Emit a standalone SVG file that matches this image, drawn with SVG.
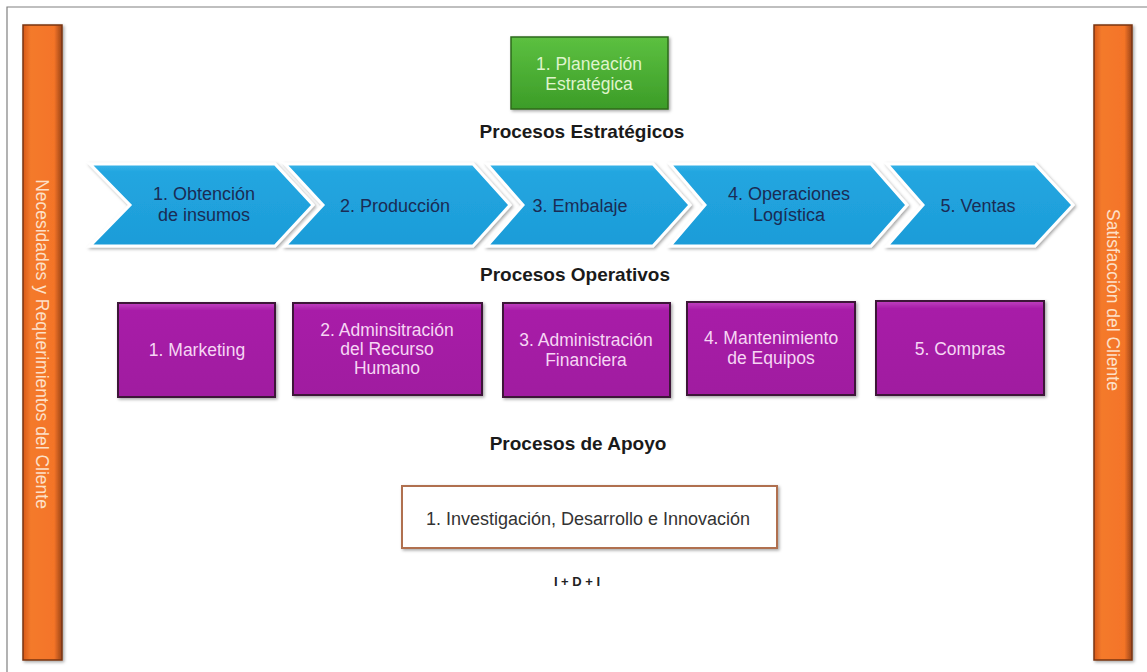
<svg xmlns="http://www.w3.org/2000/svg" width="1147" height="672" viewBox="0 0 1147 672">
<defs>
<linearGradient id="gOrange" x1="0" y1="0" x2="1" y2="0">
<stop offset="0" stop-color="#d85a18"/><stop offset="0.2" stop-color="#f47a2c"/><stop offset="0.8" stop-color="#f47428"/><stop offset="1" stop-color="#9a4418"/>
</linearGradient>
<linearGradient id="gPurple" x1="0" y1="0" x2="0" y2="1">
<stop offset="0" stop-color="#c040c0"/><stop offset="0.08" stop-color="#a81ea8"/><stop offset="1" stop-color="#a01ca0"/>
</linearGradient>
<linearGradient id="gGreen" x1="0" y1="0" x2="0" y2="1">
<stop offset="0" stop-color="#5cc040"/><stop offset="1" stop-color="#3c9c28"/>
</linearGradient>
<linearGradient id="gBlue" x1="0" y1="0" x2="0" y2="1">
<stop offset="0" stop-color="#3ab4e8"/><stop offset="0.1" stop-color="#22a6e0"/><stop offset="1" stop-color="#1d9cd8"/>
</linearGradient>
<filter id="sh" x="-10%" y="-10%" width="130%" height="130%">
<feDropShadow dx="1.5" dy="1.5" stdDeviation="1.5" flood-color="#000" flood-opacity="0.35"/>
</filter>
</defs>
<style>
.bar{fill:url(#gOrange);stroke:#7a3410;stroke-width:1.5}
.bartxt{font-family:"Liberation Sans",Arial,sans-serif;font-size:17.5px;fill:#fde0c8;text-anchor:middle}
.chev{fill:url(#gBlue);stroke:#ffffff;stroke-width:3}
.ctxt{font-family:"Liberation Sans",Arial,sans-serif;font-size:18px;fill:#1a2c55;text-anchor:middle}
.pbox{fill:url(#gPurple);stroke:#3c1238;stroke-width:2}
.ptxt{font-family:"Liberation Sans",Arial,sans-serif;font-size:17.5px;fill:#f6d6f4;text-anchor:middle}
.head{font-family:"Liberation Sans",Arial,sans-serif;font-size:19px;font-weight:bold;fill:#1a1a1a;text-anchor:middle}
.gtxt{font-family:"Liberation Sans",Arial,sans-serif;font-size:17.5px;fill:#dff4cc;text-anchor:middle}
.itxt{font-family:"Liberation Sans",Arial,sans-serif;font-size:18px;fill:#333;text-anchor:middle}
</style>
<rect width="1147" height="672" fill="#ffffff"/>
<path d="M7,672 V7 H1147" fill="none" stroke="#808080" stroke-width="1.2"/>

<g id="left-bar">
<rect class="bar" x="23" y="25" width="39" height="635" filter="url(#sh)"/>
<text class="bartxt" transform="translate(36,344) rotate(90)">Necesidades y Requerimientos del Cliente</text>
</g>
<g id="right-bar">
<rect class="bar" x="1094" y="25" width="38" height="635" filter="url(#sh)"/>
<text class="bartxt" transform="translate(1107,300) rotate(90)">Satisfacción del Cliente</text>
</g>

<g id="planeacion">
<rect x="511" y="37" width="157" height="72" fill="url(#gGreen)" stroke="#2c6a1c" stroke-width="1.5" filter="url(#sh)"/>
<text class="gtxt" x="589" y="70">1. Planeación</text>
<text class="gtxt" x="589" y="90">Estratégica</text>
</g>
<text class="head" x="582" y="138">Procesos Estratégicos</text>

<g id="chev1">
<path class="chev" d="M90,164 L275,164 L313,205 L275,246 L90,246 L130,205 Z" filter="url(#sh)"/>
<text class="ctxt" x="204" y="200">1. Obtención</text>
<text class="ctxt" x="204" y="221">de insumos</text>
</g>
<g id="chev2">
<path class="chev" d="M285,164 L473,164 L510,205 L473,246 L285,246 L323,205 Z" filter="url(#sh)"/>
<text class="ctxt" x="395" y="212">2. Producción</text>
</g>
<g id="chev3">
<path class="chev" d="M487,164 L653,164 L690,205 L653,246 L487,246 L523,205 Z" filter="url(#sh)"/>
<text class="ctxt" x="580" y="212">3. Embalaje</text>
</g>
<g id="chev4">
<path class="chev" d="M670,164 L871,164 L907,205 L871,246 L670,246 L705,205 Z" filter="url(#sh)"/>
<text class="ctxt" x="789" y="200">4. Operaciones</text>
<text class="ctxt" x="789" y="221">Logística</text>
</g>
<g id="chev5">
<path class="chev" d="M887,164 L1035,164 L1073,205 L1035,246 L887,246 L923,205 Z" filter="url(#sh)"/>
<text class="ctxt" x="978" y="212">5. Ventas</text>
</g>
<text class="head" x="575" y="281">Procesos Operativos</text>

<g id="marketing">
<rect class="pbox" x="118" y="303" width="157" height="94" filter="url(#sh)"/>
<text class="ptxt" x="197" y="356">1. Marketing</text>
</g>
<g id="rrhh">
<rect class="pbox" x="293" y="303" width="189" height="92" filter="url(#sh)"/>
<text class="ptxt" x="387" y="336">2. Adminsitración</text>
<text class="ptxt" x="387" y="355">del Recurso</text>
<text class="ptxt" x="387" y="374">Humano</text>
</g>
<g id="financiera">
<rect class="pbox" x="503" y="303" width="167" height="94" filter="url(#sh)"/>
<text class="ptxt" x="586" y="346">3. Administración</text>
<text class="ptxt" x="586" y="366">Financiera</text>
</g>
<g id="mantenimiento">
<rect class="pbox" x="687" y="302" width="168" height="93" filter="url(#sh)"/>
<text class="ptxt" x="771" y="344">4. Mantenimiento</text>
<text class="ptxt" x="771" y="364">de Equipos</text>
</g>
<g id="compras">
<rect class="pbox" x="876" y="301" width="168" height="94" filter="url(#sh)"/>
<text class="ptxt" x="960" y="355">5. Compras</text>
</g>
<text class="head" x="578" y="450">Procesos de Apoyo</text>

<g id="idi">
<rect x="402" y="486" width="375" height="62" fill="#ffffff" stroke="#b07050" stroke-width="2" filter="url(#sh)"/>
<text class="itxt" x="588" y="525">1. Investigación, Desarrollo e Innovación</text>
</g>
<text x="577" y="586" font-family="Liberation Sans,Arial,sans-serif" font-size="13" font-weight="bold" fill="#222" text-anchor="middle">I + D + I</text>
</svg>
